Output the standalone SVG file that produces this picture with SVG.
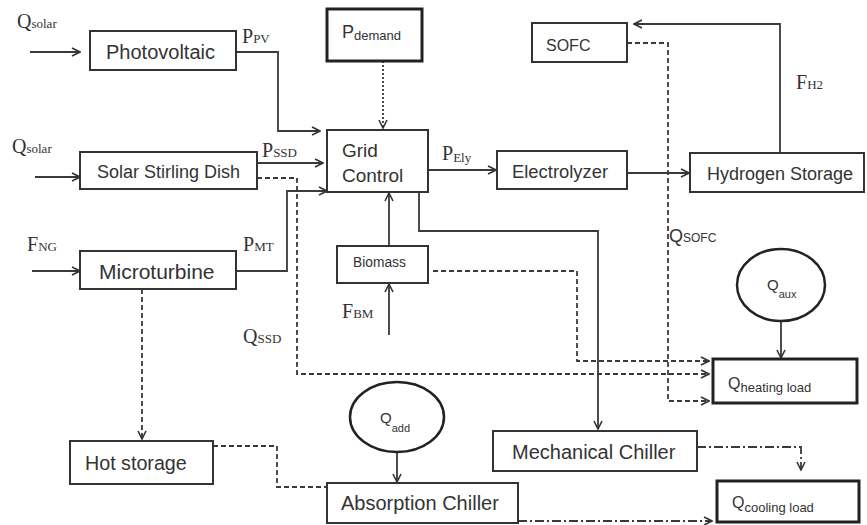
<svg xmlns="http://www.w3.org/2000/svg" width="867" height="525" viewBox="0 0 867 525">
<style>
.box{fill:#fff;stroke:#333;stroke-width:2}
.bold{fill:#fff;stroke:#222;stroke-width:3}
.lbl{font-family:"Liberation Sans",Arial,sans-serif;fill:#333}
.ser{font-family:"Liberation Serif","Times New Roman",serif;fill:#333}
.c{fill:none;stroke:#3a3a3a;stroke-width:1.8}
.dash{stroke-dasharray:5,3}
.dot{stroke-dasharray:2,2}
.dd{stroke-dasharray:9,3,2,3}
</style>
<defs>
<marker id="ah" viewBox="0 0 10 10" refX="9" refY="5" markerWidth="10" markerHeight="10" markerUnits="userSpaceOnUse" orient="auto">
<path d="M1,1 L9,5 L1,9" fill="none" stroke="#333" stroke-width="1.6"/>
</marker>
</defs>
<rect width="867" height="525" fill="#fff"/>
<g id="connectors">
<path class="c" d="M30,52 H80" marker-end="url(#ah)"/>
<path class="c" d="M35,177 H80" marker-end="url(#ah)"/>
<path class="c" d="M32,271 H80" marker-end="url(#ah)"/>
<path class="c" d="M236,52 H278 V131 H320" marker-end="url(#ah)"/>
<path class="c" d="M257,163 H323" marker-end="url(#ah)"/>
<path class="c" d="M236,271 H287 V191 H327" marker-end="url(#ah)"/>
<path class="c dot" d="M383,61 V128" marker-end="url(#ah)"/>
<path class="c" d="M428,170 H496" marker-end="url(#ah)"/>
<path class="c" d="M627,173 H689" marker-end="url(#ah)"/>
<path class="c" d="M780,153 V24 H634" marker-end="url(#ah)"/>
<path class="c" d="M389,246 V193" marker-end="url(#ah)"/>
<path class="c" d="M389,335 V284" marker-end="url(#ah)"/>
<path class="c" d="M419,192 V231 H598 V429" marker-end="url(#ah)"/>
<path class="c dash" d="M627,43 H668 V401 H709" marker-end="url(#ah)"/>
<path class="c dash" d="M257,178 H297 V374 H709" marker-end="url(#ah)"/>
<path class="c dash" d="M433,271 H577 V361 H709" marker-end="url(#ah)"/>
<path class="c" d="M781,321 V358" marker-end="url(#ah)"/>
<path class="c dash" d="M142,289 V439" marker-end="url(#ah)"/>
<path class="c dash" d="M213,446 H277 V487 H327"/>
<path class="c" d="M397,452 V482" marker-end="url(#ah)"/>
<path class="c dd" d="M697,447 H801 V470" marker-end="url(#ah)"/>
<path class="c dd" d="M518,521 H712" marker-end="url(#ah)"/>
</g>
<g id="labels">
<text class="ser" x="17" y="28" font-size="20">Q<tspan font-size="13">solar</tspan></text>
<text class="ser" x="12" y="153" font-size="20">Q<tspan font-size="13">solar</tspan></text>
<text class="ser" x="27" y="251" font-size="20">F<tspan font-size="13">NG</tspan></text>
<text class="ser" x="242" y="43" font-size="20">P<tspan font-size="13">PV</tspan></text>
<text class="ser" x="262" y="157" font-size="20">P<tspan font-size="13">SSD</tspan></text>
<text class="ser" x="243" y="251" font-size="20">P<tspan font-size="13">MT</tspan></text>
<text class="ser" x="243" y="343" font-size="20">Q<tspan font-size="13">SSD</tspan></text>
<text class="ser" x="342" y="318" font-size="20">F<tspan font-size="13">BM</tspan></text>
<text class="ser" x="442" y="160" font-size="20">P<tspan font-size="13" dy="2">Ely</tspan></text>
<text class="ser" x="796" y="89" font-size="20">F<tspan font-size="13">H2</tspan></text>
<text class="lbl" x="669" y="242" font-size="18">Q<tspan font-size="12">SOFC</tspan></text>
</g>
<g id="photovoltaic"><rect class="box" x="90" y="31" width="146" height="39"/><text class="lbl" x="106" y="59" font-size="20">Photovoltaic</text></g>
<g id="solar-stirling-dish"><rect class="box" x="80" y="152" width="177" height="37"/><text class="lbl" x="97" y="178" font-size="18">Solar Stirling Dish</text></g>
<g id="microturbine"><rect class="box" x="80" y="251" width="156" height="38"/><text class="lbl" x="99" y="279" font-size="21">Microturbine</text></g>
<g id="p-demand"><rect class="bold" x="327" y="9" width="95" height="52"/><text class="lbl" x="342" y="38" font-size="18">P<tspan font-size="13" dy="2">demand</tspan></text></g>
<g id="grid-control"><rect class="box" x="327" y="130" width="101" height="62"/><text class="lbl" x="342" y="157" font-size="19">Grid</text><text class="lbl" x="342" y="182" font-size="19">Control</text></g>
<g id="electrolyzer"><rect class="box" x="497" y="151" width="130" height="38"/><text class="lbl" x="512" y="178" font-size="18.4">Electrolyzer</text></g>
<g id="hydrogen-storage"><rect class="box" x="690" y="153" width="174" height="39"/><text class="lbl" x="707" y="180" font-size="18">Hydrogen Storage</text></g>
<g id="sofc"><rect class="box" x="532" y="23" width="95" height="39"/><text class="lbl" x="546" y="51" font-size="16">SOFC</text></g>
<g id="biomass"><rect class="box" x="337" y="246" width="91" height="37"/><text class="lbl" x="353" y="267" font-size="13.8">Biomass</text></g>
<g id="q-aux"><ellipse cx="781" cy="285" rx="44" ry="36" fill="#fff" stroke="#222" stroke-width="2.5"/><text class="lbl" x="767" y="290" font-size="15">Q<tspan font-size="11" dy="8">aux</tspan></text></g>
<g id="q-heating-load"><rect class="bold" x="713" y="359" width="144" height="44"/><text class="lbl" x="728" y="389" font-size="16">Q<tspan font-size="13" dy="3">heating load</tspan></text></g>
<g id="mechanical-chiller"><rect class="box" x="493" y="431" width="204" height="40"/><text class="lbl" x="512" y="459" font-size="20">Mechanical Chiller</text></g>
<g id="q-cooling-load"><rect class="bold" x="717" y="481" width="142" height="41"/><text class="lbl" x="732" y="508" font-size="16">Q<tspan font-size="13" dy="4">cooling load</tspan></text></g>
<g id="hot-storage"><rect class="box" x="70" y="441" width="143" height="43"/><text class="lbl" x="85" y="470" font-size="19.7">Hot storage</text></g>
<g id="q-add"><ellipse cx="397" cy="417" rx="47" ry="35" fill="#fff" stroke="#222" stroke-width="2.5"/><text class="lbl" x="380" y="423" font-size="15">Q<tspan font-size="11" dy="9">add</tspan></text></g>
<g id="absorption-chiller"><rect class="box" x="327" y="483" width="191" height="40"/><text class="lbl" x="341" y="510" font-size="20">Absorption Chiller</text></g>
</svg>
